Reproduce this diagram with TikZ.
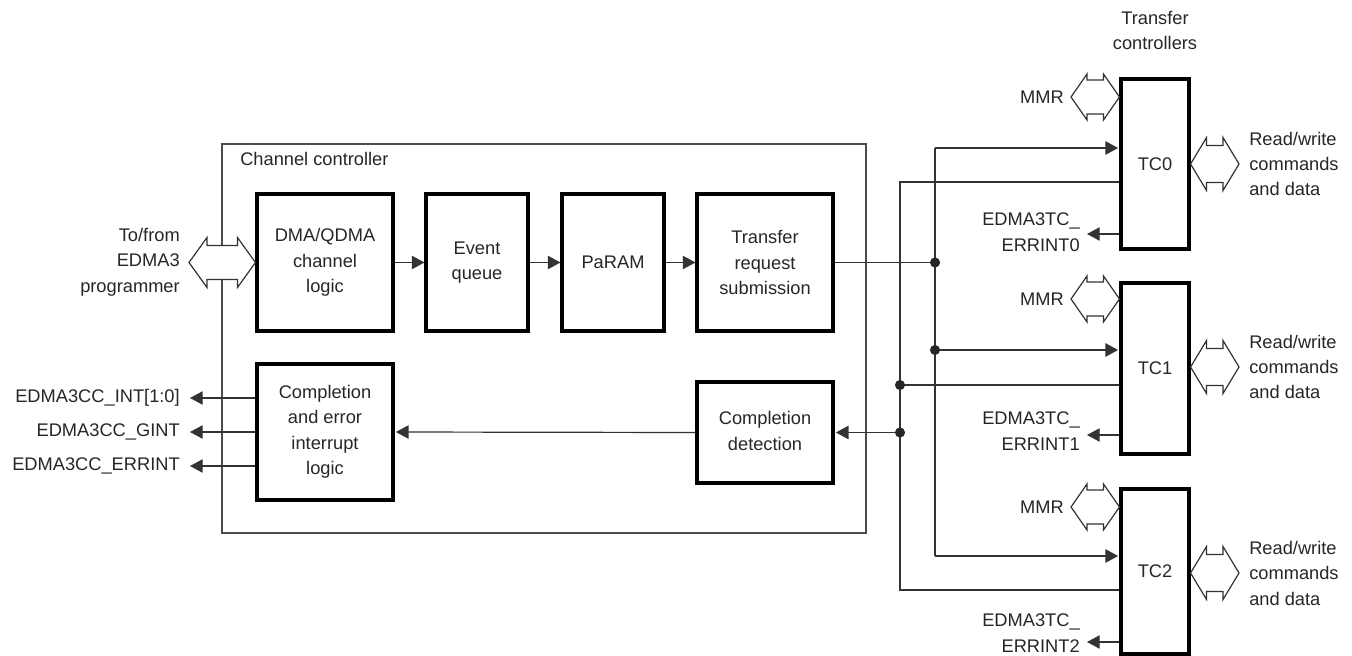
\documentclass[tikz,border=0pt]{standalone}
\usepackage{fontspec}
\setmainfont{Liberation Sans}
\usetikzlibrary{arrows.meta,calc}
\newcommand\dblarrow[5]{%
  % #1 left tip, #2 right tip, #3 head length, #4 head half height, #5 shaft half height
  \draw[dblar] (#1) -- ($(#1)+(#3,-#4)$) -- ($(#1)+(#3,-#5)$) -- ($(#2)+(-#3,-#5)$) -- ($(#2)+(-#3,-#4)$) -- (#2)
    -- ($(#2)+(-#3,#4)$) -- ($(#2)+(-#3,#5)$) -- ($(#1)+(#3,#5)$) -- ($(#1)+(#3,#4)$) -- cycle;}
\tikzset{
  blk/.style={draw=black, line width=2.3pt, align=center, inner sep=0pt, text=black!85},
  thinln/.style={draw=black!80, line width=0.9pt},
  arr/.style={thinln, -{Triangle[length=9.5pt,width=10pt]}},
  dotm/.style={fill=black!85},
  dblar/.style={draw=black!80, line width=0.9pt, fill=white, line join=miter},
  lbl/.style={inner sep=0pt, align=center, text=black!85},
  lblr/.style={inner sep=0pt, align=right, anchor=east, text=black!85},
  lbll/.style={inner sep=0pt, align=left, anchor=west, text=black!85},
}
\begin{document}
\begin{tikzpicture}[x=0.75pt,y=-0.75pt, font=\fontsize{13.7pt}{19.1pt}\selectfont]
\useasboundingbox (0,0) rectangle (1352,656);

% channel controller frame
\coordinate (ccnw) at (222,144);
\coordinate (ccse) at (866,533);
\draw[draw=black!70, line width=0.9pt] (ccnw) rectangle (ccse);
\node[lbll] (cclbl) at (240,159) {Channel controller};

% blocks
\node[blk, minimum width=102pt, minimum height=102.75pt] (dma) at (325,262.5) {DMA/QDMA\\channel\\logic};
\node[blk, minimum width=76.5pt, minimum height=102.75pt] (eq) at (477,262.5) {Event\\queue};
\node[blk, minimum width=76.5pt, minimum height=102.75pt] (pa) at (613,262.5) {PaRAM};
\node[blk, minimum width=102pt, minimum height=102.75pt] (trs) at (765,262.5) {Transfer\\request\\submission};
\node[blk, minimum width=102pt, minimum height=102pt] (ce) at (325,432) {Completion\\and error\\interrupt\\logic};
\node[blk, minimum width=102pt, minimum height=75.75pt] (cd) at (765,432.5)
  {\raisebox{4.5pt}{\begin{tabular}{@{}c@{}}Completion\\detection\end{tabular}}};

% transfer controllers
\node[lbl] (tclbl) at (1155,30.5) {Transfer\\controllers};
\node[blk, minimum width=51pt, minimum height=127.5pt] (tc0) at (1155,164) {TC0};
\node[blk, minimum width=51pt, minimum height=128.25pt] (tc1) at (1155,368.5) {TC1};
\node[blk, minimum width=51pt, minimum height=123.75pt] (tc2) at (1155,571.5) {TC2};

% pipeline arrows
\draw[arr] (dma) -- (eq);
\draw[arr] (eq) -- (pa);
\draw[arr] (pa) -- (trs);

% request bus (x=935)
\coordinate (j1) at (935,262.5);
\coordinate (a0) at (935,148);
\coordinate (j2) at (935,350);
\coordinate (a2) at (935,556);
\draw[thinln] (trs.east) -- (j1);
\draw[thinln] (a0) -- (a2);
\draw[arr, shorten >=1pt] (a0) -- (a0 -| tc0.west);
\draw[arr, shorten >=1pt] (j2) -- (j2 -| tc1.west);
\draw[arr, shorten >=1pt] (a2) -- (a2 -| tc2.west);

% completion bus (x=900)
\coordinate (b0) at (900,182);
\coordinate (j3) at (900,385);
\coordinate (b2) at (900,590);
\coordinate (j4) at (cd.east -| b0);
\draw[thinln] (b0 -| tc0.west) -- (b0) -- (b2) -- (b2 -| tc2.west);
\draw[thinln] (j3 -| tc1.west) -- (j3);
\draw[arr, shorten >=1pt] (j4) -- (cd.east);
\draw[arr, shorten >=1pt] (cd.west) -- (ce.east);

\foreach \p in {j1,j2,j3,j4} \fill[dotm] (\p) circle[radius=3.8pt];

% left side
\node[lblr] (prog) at (180,262) {To/from\\EDMA3\\programmer};
\coordinate (pl) at (189,262.5);
\dblarrow{pl}{dma.west}{18}{25}{17}

\coordinate (o1) at (190,398);
\coordinate (o2) at (190,432);
\coordinate (o3) at (190,466);
\draw[arr] (o1 -| ce.west) -- (o1);
\draw[arr] (o2 -| ce.west) -- (o2);
\draw[arr] (o3 -| ce.west) -- (o3);
\node[lblr] (o1l) at (180,398) {EDMA3CC\_INT[1:0]};
\node[lblr] (o2l) at (180,432) {EDMA3CC\_GINT};
\node[lblr] (o3l) at (180,466) {EDMA3CC\_ERRINT};

% error interrupts of TCs
\coordinate (e0) at (1087,234);
\coordinate (e1) at (1087,435);
\coordinate (e2) at (1087,642);
\draw[arr] (e0 -| tc0.west) -- (e0);
\draw[arr] (e1 -| tc1.west) -- (e1);
\draw[arr] (e2 -| tc2.west) -- (e2);
\node[lblr] (e0l) at (1080,232) {EDMA3TC\_\\ERRINT0};
\node[lblr] (e1l) at (1080,431) {EDMA3TC\_\\ERRINT1};
\node[lblr] (e2l) at (1080,633) {EDMA3TC\_\\ERRINT2};

% MMR ports
\coordinate (m0) at (1071,97);
\coordinate (m1) at (1071,299);
\coordinate (m2) at (1071,507);
\dblarrow{m0}{m0 -| tc0.west}{16}{23}{17}
\dblarrow{m1}{m1 -| tc1.west}{16}{23}{17}
\dblarrow{m2}{m2 -| tc2.west}{16}{23}{17}
\node[lblr] (m0l) at (1064,97) {MMR};
\node[lblr] (m1l) at (1064,299) {MMR};
\node[lblr] (m2l) at (1064,507) {MMR};

% read/write ports
\coordinate (r0) at (1239,164);
\coordinate (r1) at (1239,367);
\coordinate (r2) at (1239,573);
\dblarrow{r0 -| tc0.east}{r0}{16}{26.5}{18.5}
\dblarrow{r1 -| tc1.east}{r1}{16}{26.5}{18.5}
\dblarrow{r2 -| tc2.east}{r2}{16}{26.5}{18.5}
\node[lbll] (r0l) at (1249,164) {Read/write\\commands\\and data};
\node[lbll] (r1l) at (1249,367) {Read/write\\commands\\and data};
\node[lbll] (r2l) at (1249,573) {Read/write\\commands\\and data};
\end{tikzpicture}
\end{document}
